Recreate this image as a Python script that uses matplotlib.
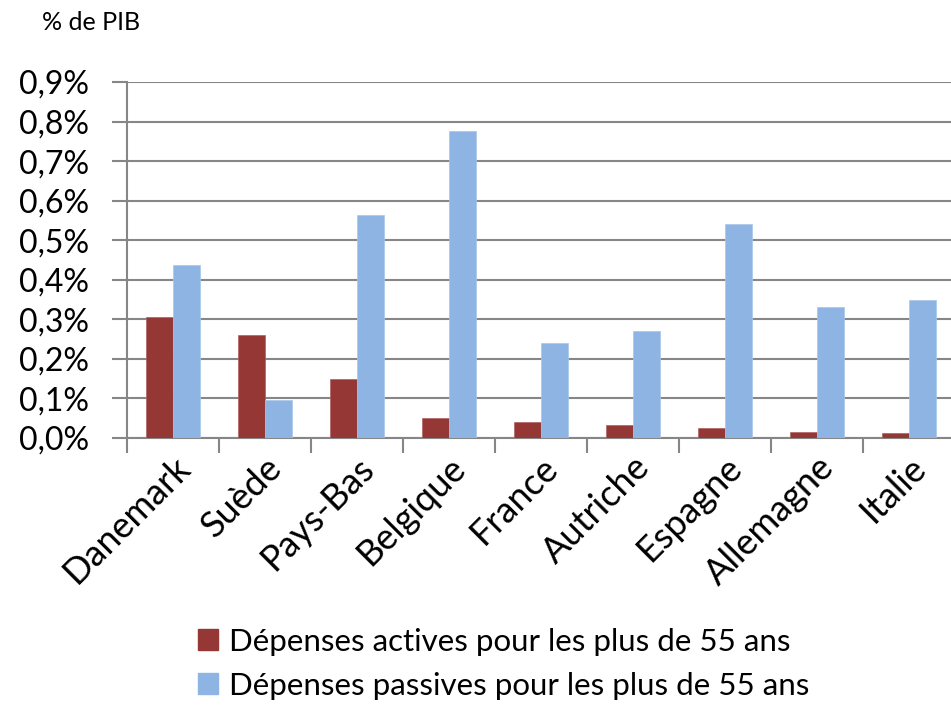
import numpy as np
import matplotlib
matplotlib.use("Agg")
import matplotlib.pyplot as plt
from matplotlib.patches import Patch
from matplotlib.ticker import FuncFormatter

plt.rcParams["font.family"] = ["Lato", "DejaVu Sans"]

# Data (% of GDP)
countries = ["Danemark", "Suède", "Pays-Bas", "Belgique", "France",
             "Autriche", "Espagne", "Allemagne", "Italie"]
actives = [0.305, 0.26, 0.15, 0.05, 0.04, 0.033, 0.026, 0.016, 0.013]
passives = [0.437, 0.095, 0.565, 0.777, 0.24, 0.27, 0.54, 0.33, 0.348]
series_names = ["Dépenses actives pour les plus de 55 ans",
                "Dépenses passives pour les plus de 55 ans"]
yticks = [0.0, 0.1, 0.2, 0.3, 0.4, 0.5, 0.6, 0.7, 0.8, 0.9]

red = "#953735"
blue = "#8EB4E3"
grid = "#868686"

fig = plt.figure(figsize=(9.51, 7.06), dpi=100)
ax = fig.add_axes([127 / 951, (706 - 438) / 706, 828 / 951, 356 / 706])

x = np.arange(len(countries))
w = 0.29
ax.bar(x - w / 2, actives, w, color=red, edgecolor="#b06060", linewidth=0.5, zorder=3)
ax.bar(x + w / 2, passives, w, color=blue, edgecolor="#a8c6ea", linewidth=0.5, zorder=3)

ax.set_xlim(-0.5, len(countries) - 0.5)
ax.set_ylim(0, 0.9)
ax.set_yticks(yticks)
ax.yaxis.set_major_formatter(FuncFormatter(lambda v, p: f"{v:.1f}%".replace(".", ",")))
ax.tick_params(axis="y", labelsize=23, length=11, width=1.5, color=grid, pad=16)
ax.yaxis.grid(True, color=grid, linewidth=1.5, zorder=0)
ax.set_axisbelow(True)

ax.set_xticks(np.arange(len(countries) + 1) - 0.5, minor=False)
ax.set_xticklabels([])
ax.tick_params(axis="x", length=11, width=1.5, color=grid)
ax.set_xticks(x, minor=True)
ax.set_xticklabels(countries, minor=True, rotation=45, ha="right", va="top",
                   rotation_mode="anchor", fontsize=26)
ax.tick_params(axis="x", which="minor", length=0, pad=9)

for s in ["top", "right"]:
    ax.spines[s].set_visible(False)
for s in ["left", "bottom"]:
    ax.spines[s].set_color(grid)
    ax.spines[s].set_linewidth(1.5)

fig.text(42 / 951, 1 - 22 / 706, "% de PIB", fontsize=18, va="center", ha="left")

handles = [Patch(color=red), Patch(color=blue)]
fig.legend(handles, series_names, loc="upper left", bbox_to_anchor=(176 / 951, 1 - 606 / 706),
           frameon=False, fontsize=22.5, handlelength=0.65, handleheight=0.65,
           handletextpad=0.35, labelspacing=0.5, borderpad=0.2)

fig.savefig("out.png", dpi=100)
